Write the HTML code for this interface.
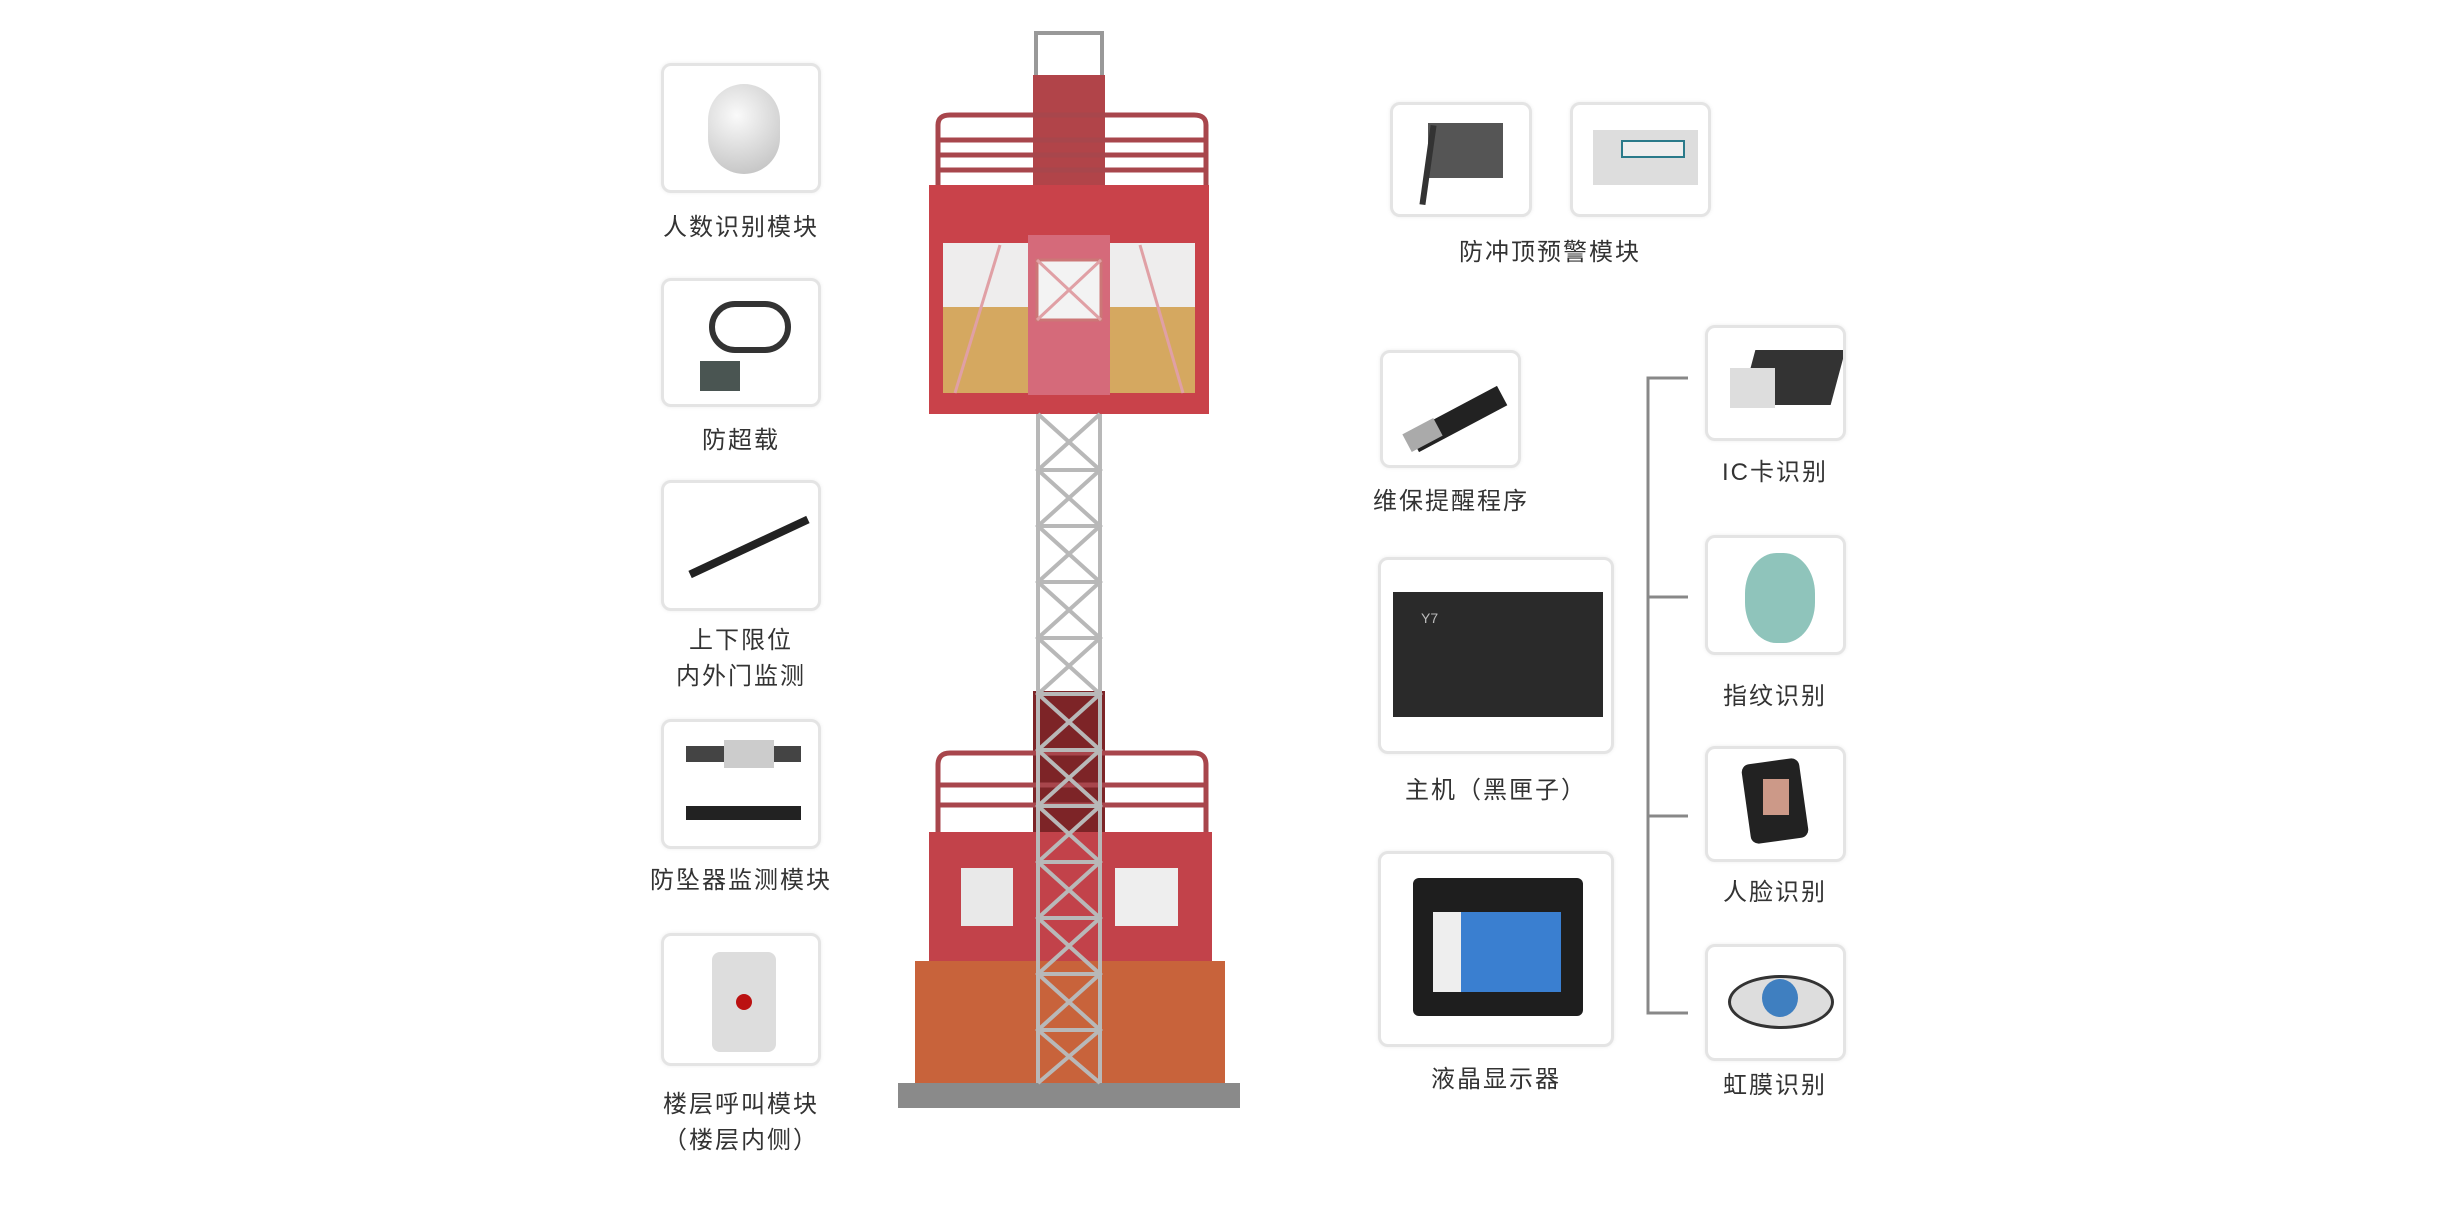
<!DOCTYPE html><html><head><meta charset="utf-8"><style>
body{margin:0;width:2462px;height:1230px;background:#fff;position:relative;overflow:hidden;font-family:"Liberation Sans","Noto Sans CJK SC",sans-serif;color:#333}
.b{position:absolute;border:3px solid #e4e4e4;border-radius:10px;background:#fff;box-shadow:0 0 4px #eee;box-sizing:border-box;overflow:hidden}
.t{position:absolute;font-size:24px;text-align:center;line-height:36px;letter-spacing:2px;transform:translateX(-50%);white-space:nowrap}
.a{position:absolute}
</style></head><body>
<!-- left boxes -->
<div class="b" style="left:661px;top:63px;width:160px;height:130px"><div class="a" style="left:44px;top:18px;width:72px;height:90px;border-radius:40px;background:radial-gradient(circle at 40% 35%,#fafafa,#bbb)"></div></div>
<div class="t" style="left:741px;top:210px">人数识别模块</div>
<div class="b" style="left:661px;top:278px;width:160px;height:129px"><div class="a" style="left:45px;top:20px;width:70px;height:40px;border:6px solid #333;border-radius:30px"></div><div class="a" style="left:36px;top:80px;width:40px;height:30px;background:#4a5552"></div></div>
<div class="t" style="left:741px;top:423px">防超载</div>
<div class="b" style="left:661px;top:480px;width:160px;height:131px"><div class="a" style="left:20px;top:60px;width:130px;height:8px;background:#222;transform:rotate(-25deg)"></div></div>
<div class="t" style="left:741px;top:623px">上下限位</div>
<div class="t" style="left:741px;top:659px">内外门监测</div>
<div class="b" style="left:661px;top:719px;width:160px;height:130px"><div class="a" style="left:22px;top:24px;width:115px;height:16px;background:#444"></div><div class="a" style="left:60px;top:18px;width:50px;height:28px;background:#ccc"></div><div class="a" style="left:22px;top:84px;width:115px;height:14px;background:#222"></div></div>
<div class="t" style="left:741px;top:863px">防坠器监测模块</div>
<div class="b" style="left:661px;top:933px;width:160px;height:133px"><div class="a" style="left:48px;top:16px;width:64px;height:100px;background:#ddd;border-radius:8px"></div><div class="a" style="left:72px;top:58px;width:16px;height:16px;background:#b11;border-radius:50%"></div></div>
<div class="t" style="left:741px;top:1087px">楼层呼叫模块</div>
<div class="t" style="left:741px;top:1123px">（楼层内侧）</div>
<!-- tower -->
<svg class="a" style="left:0;top:0" width="2462" height="1230">
<rect x="1036" y="33" width="66" height="50" fill="#fff" stroke="#999" stroke-width="4"/>
<rect x="1033" y="75" width="72" height="110" fill="#b14449"/>
<g stroke="#a8464c" stroke-width="5" fill="none"><path d="M938 185V125Q938 115 950 115H1194Q1206 115 1206 125V185"/><line x1="938" y1="140" x2="1206" y2="140"/><line x1="938" y1="155" x2="1206" y2="155"/><line x1="938" y1="170" x2="1206" y2="170"/></g>
<rect x="929" y="185" width="280" height="229" fill="#c9424a"/>
<rect x="943" y="243" width="252" height="64" fill="#eeeded"/>
<rect x="943" y="307" width="252" height="86" fill="#d5a860"/>
<rect x="1028" y="235" width="82" height="160" fill="#d56a7a"/>
<rect x="1037" y="260" width="64" height="60" fill="#f3f3f3" stroke="#c77" stroke-width="3"/>
<g stroke="#e0a0a5" stroke-width="3"><line x1="955" y1="393" x2="1000" y2="245"/><line x1="1183" y1="393" x2="1140" y2="245"/><line x1="1037" y1="260" x2="1101" y2="320"/><line x1="1101" y1="260" x2="1037" y2="320"/></g>
<rect x="1033" y="691" width="72" height="141" fill="#7d2427"/>
<g stroke="#a8464c" stroke-width="5" fill="none"><path d="M938 832V765Q938 753 950 753H1194Q1206 753 1206 765V832"/><line x1="938" y1="785" x2="1206" y2="785"/><line x1="938" y1="805" x2="1206" y2="805"/></g>
<rect x="929" y="832" width="283" height="129" fill="#c2424a"/>
<rect x="961" y="868" width="52" height="58" fill="#e9e9e9"/>
<rect x="1115" y="868" width="63" height="58" fill="#eeeeee"/>
<rect x="915" y="961" width="310" height="122" fill="#c8633b"/>
<rect x="898" y="1083" width="342" height="25" fill="#8a8a8a"/>
<g stroke="#b8b8b8" stroke-width="4" fill="none"><line x1="1038" y1="414" x2="1038" y2="1083"/><line x1="1100" y1="414" x2="1100" y2="1083"/>
<path d="M1038 414L1100 470L1038 526L1100 582L1038 638L1100 694L1038 750L1100 806L1038 862L1100 918L1038 974L1100 1030L1038 1083"/>
<path d="M1100 414L1038 470L1100 526L1038 582L1100 638L1038 694L1100 750L1038 806L1100 862L1038 918L1100 974L1038 1030L1100 1083"/>
<path d="M1038 470H1100M1038 526H1100M1038 582H1100M1038 638H1100M1038 694H1100M1038 750H1100M1038 806H1100M1038 862H1100M1038 918H1100M1038 974H1100M1038 1030H1100"/></g>
<g stroke="#888" stroke-width="3" fill="none"><path d="M1688 378H1648V1013H1688M1648 597H1688M1648 816H1688"/></g>
</svg>
<!-- right -->
<div class="b" style="left:1390px;top:102px;width:142px;height:115px"><div class="a" style="left:35px;top:18px;width:75px;height:55px;background:#555"></div><div class="a" style="left:32px;top:20px;width:6px;height:80px;background:#333;transform:rotate(8deg)"></div></div>
<div class="b" style="left:1570px;top:102px;width:141px;height:115px"><div class="a" style="left:20px;top:25px;width:105px;height:55px;background:#ddd"></div><div class="a" style="left:48px;top:35px;width:60px;height:14px;background:#eee;border:2px solid #2a7a8a"></div></div>
<div class="t" style="left:1550px;top:235px">防冲顶预警模块</div>
<div class="b" style="left:1380px;top:350px;width:141px;height:118px"><div class="a" style="left:25px;top:55px;width:100px;height:22px;background:#222;transform:rotate(-28deg)"></div><div class="a" style="left:22px;top:72px;width:35px;height:20px;background:#aaa;transform:rotate(-28deg)"></div></div>
<div class="t" style="left:1451px;top:484px">维保提醒程序</div>
<div class="b" style="left:1378px;top:557px;width:236px;height:197px"><div class="a" style="left:12px;top:32px;width:210px;height:125px;background:#2a2a2a"></div><div class="a" style="left:40px;top:50px;color:#bbb;font-size:14px">Y7</div></div>
<div class="t" style="left:1496px;top:773px">主机（黑匣子）</div>
<div class="b" style="left:1378px;top:851px;width:236px;height:196px"><div class="a" style="left:32px;top:24px;width:170px;height:138px;background:#1e1e1e;border-radius:6px"></div><div class="a" style="left:52px;top:58px;width:128px;height:80px;background:#3a7fd0"></div><div class="a" style="left:52px;top:58px;width:28px;height:80px;background:#eee"></div></div>
<div class="t" style="left:1496px;top:1062px">液晶显示器</div>
<div class="b" style="left:1705px;top:325px;width:141px;height:116px"><div class="a" style="left:40px;top:22px;width:90px;height:55px;background:#333;transform:skewX(-15deg)"></div><div class="a" style="left:22px;top:40px;width:45px;height:40px;background:#ddd"></div></div>
<div class="t" style="left:1775px;top:455px">IC卡识别</div>
<div class="b" style="left:1705px;top:535px;width:141px;height:120px"><div class="a" style="left:37px;top:15px;width:70px;height:90px;border-radius:45%;background:#8fc4bb"></div></div>
<div class="t" style="left:1775px;top:679px">指纹识别</div>
<div class="b" style="left:1705px;top:746px;width:141px;height:116px"><div class="a" style="left:38px;top:12px;width:58px;height:80px;background:#222;border-radius:8px;transform:rotate(-8deg)"></div><div class="a" style="left:55px;top:30px;width:26px;height:36px;background:#c98"></div></div>
<div class="t" style="left:1775px;top:875px">人脸识别</div>
<div class="b" style="left:1705px;top:944px;width:141px;height:117px"><div class="a" style="left:20px;top:28px;width:100px;height:48px;border-radius:50%;background:#ddd;border:3px solid #333"></div><div class="a" style="left:54px;top:32px;width:36px;height:38px;border-radius:50%;background:#3f7fc0"></div></div>
<div class="t" style="left:1775px;top:1068px">虹膜识别</div>
</body></html>
